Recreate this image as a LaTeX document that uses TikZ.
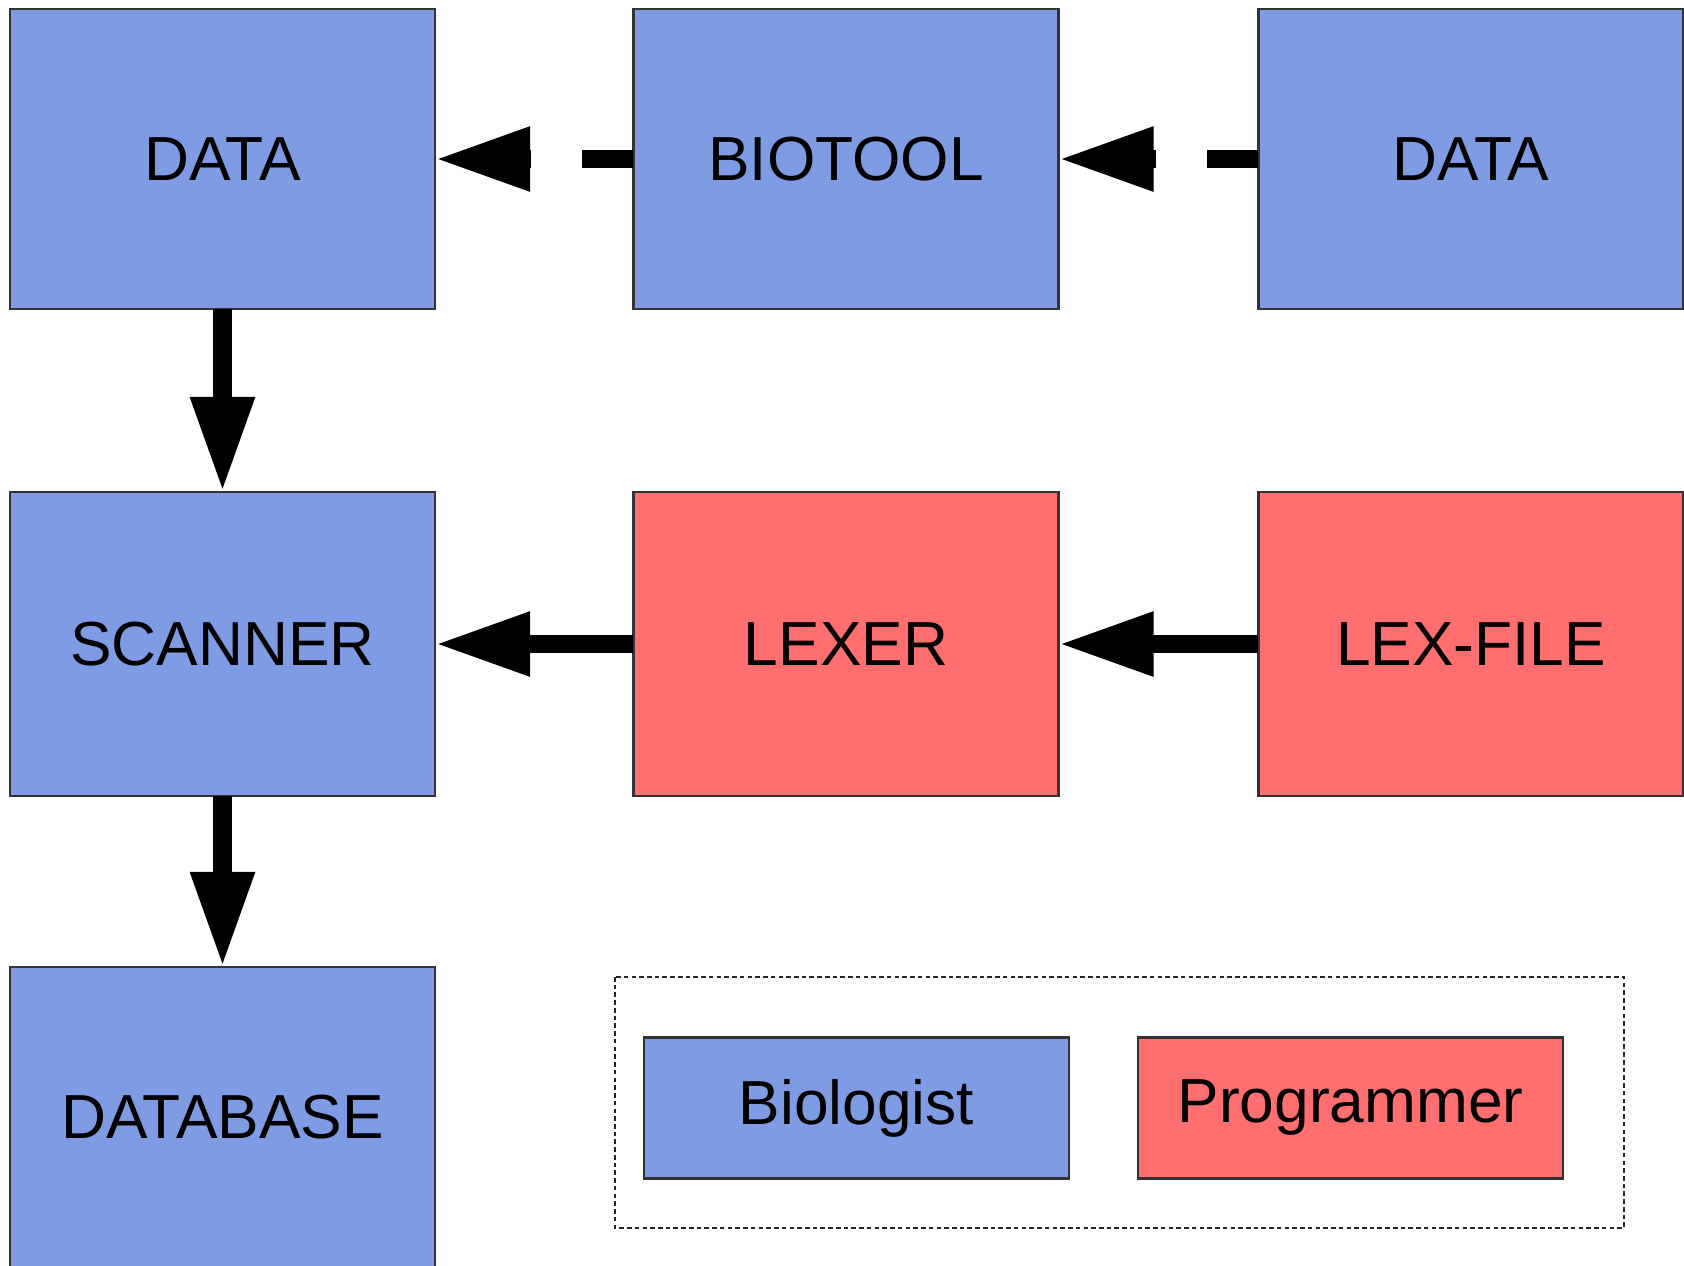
\documentclass[tikz,border=0pt]{standalone}
\usepackage{fontspec}
\setmainfont{Liberation Sans}
\usetikzlibrary{arrows.meta}
\definecolor{bioblue}{RGB}{127,155,227}
\definecolor{progred}{RGB}{255,111,111}
\begin{document}
\begin{tikzpicture}[x=0.01cm,y=-0.01cm]

    \tikzset{boxstyle/.style={draw=black!80,line width=0.7pt,shape=rectangle,
        minimum width=4.25cm,minimum height=3cm,inner sep=0pt,outer sep=0pt,
        font=\fontsize{17.7}{21}\selectfont}}
    \tikzset{keystyle/.style={boxstyle,minimum height=1.41cm}}
    \path[use as bounding box] (0,0) rectangle (1684,1265);
    \clip (0,0) rectangle (1684,1265);

    \node[boxstyle,fill=bioblue] (data1) at (222.5,159) {DATA};
    \node[boxstyle,fill=bioblue] (biotool) at (846,159) {BIOTOOL};
    \node[boxstyle,fill=bioblue] (data2) at (1471,159) {DATA};

    \node[boxstyle,fill=bioblue,minimum height=3.04cm] (scanner) at (222.5,644) {SCANNER};
    \node[boxstyle,fill=progred,minimum height=3.04cm] (lexer) at (846,644) {LEXER};
    \node[boxstyle,fill=progred,minimum height=3.04cm] (lexfile) at (1471,644) {LEX-FILE};

    \node[boxstyle,fill=bioblue] (database) at (222.5,1117) {DATABASE};

    \draw[black!85,line width=0.6pt,dash pattern=on 1.3pt off 0.9pt] (615,977) rectangle (1624,1228);
    \node[keystyle,fill=bioblue] (biologist) at (856.5,1108) {Biologist};
    \node[keystyle,fill=progred] (programmer) at (1350.5,1108) {Programmer};

    \begin{scope}[every path/.style={-{Triangle[length=0.95cm,width=0.6cm]},line width=0.18cm}]
        \draw[dash pattern=on 0.51cm off 0.51cm] (biotool) -- (data1);
        \draw[dash pattern=on 0.51cm off 0.51cm] (data2) -- (biotool);

        \draw (lexer) -- (scanner);
        \draw (lexfile) -- (lexer);

        \draw (data1) -- (scanner);
        \draw (scanner) -- (database);
    \end{scope}
\end{tikzpicture}
\end{document}
